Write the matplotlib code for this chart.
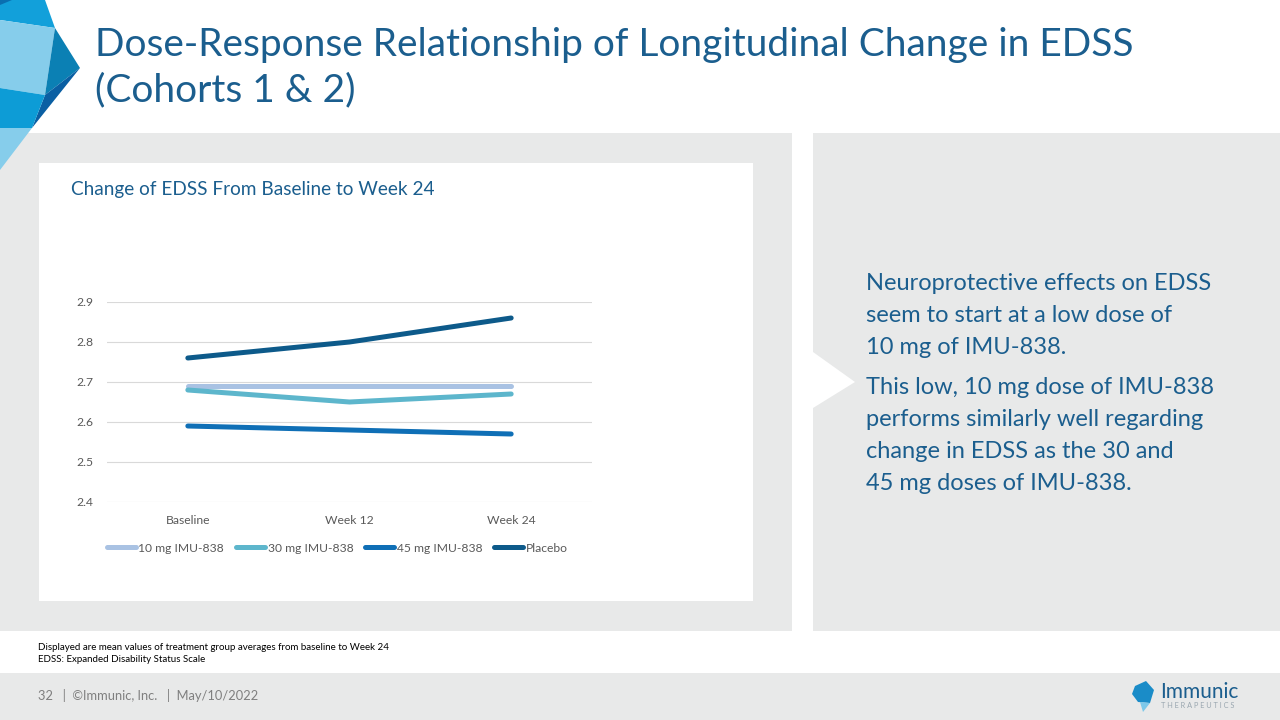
import matplotlib
matplotlib.use("Agg")
from matplotlib import pyplot as plt
from matplotlib.patches import Rectangle, Polygon

plt.rcParams['font.family'] = ['Lato', 'DejaVu Sans']

# data
visits = ["Baseline", "Week 12", "Week 24"]
dose_10mg = [2.69, 2.69, 2.69]
dose_30mg = [2.68, 2.65, 2.67]
dose_45mg = [2.59, 2.58, 2.57]
placebo = [2.76, 2.80, 2.86]
series_names = ["10 mg IMU-838", "30 mg IMU-838", "45 mg IMU-838", "Placebo"]
series_colors = ["#A9C2E3", "#5DB6CC", "#0F6FB6", "#0D5A8A"]
yticks = [2.4, 2.5, 2.6, 2.7, 2.8, 2.9]

W, H = 1280, 720
dark_blue = "#1B5E8E"
panel_gray = "#E8E9E9"

fig = plt.figure(figsize=(12.8, 7.2), dpi=100)
bg = fig.add_axes([0, 0, 1, 1])
bg.set_xlim(0, W)
bg.set_ylim(H, 0)
bg.axis("off")

# panels
bg.add_patch(Rectangle((0, 133), 792, 498, color=panel_gray, lw=0))
bg.add_patch(Rectangle((813, 133), 467, 498, color=panel_gray, lw=0))
bg.add_patch(Polygon([(813, 352), (855, 382), (813, 408)], closed=True, color="white", lw=0))
bg.add_patch(Rectangle((39, 163), 714, 438, color="white", lw=0))
bg.add_patch(Rectangle((0, 673), W, 47, color=panel_gray, lw=0))

# logo shapes top-left
bg.add_patch(Polygon([(0, 0), (45, 0), (55, 28), (0, 20)], color="#12A0DA", lw=0))
bg.add_patch(Polygon([(0, 0), (12, 0), (0, 5)], color="#0A6FB0", lw=0))
bg.add_patch(Polygon([(0, 20), (55, 28), (45, 95), (0, 88)], color="#86CDEB", lw=0))
bg.add_patch(Polygon([(55, 28), (80, 68), (45, 95)], color="#0B80B4", lw=0))
bg.add_patch(Polygon([(45, 95), (80, 68), (32, 128)], color="#0A5FA3", lw=0))
bg.add_patch(Polygon([(0, 88), (45, 95), (32, 128), (0, 128)], color="#0D9CD6", lw=0))
bg.add_patch(Polygon([(0, 128), (32, 128), (0, 170)], color="#86CDEB", lw=0))

# titles and texts
bg.text(95, 45, "Dose-Response Relationship of Longitudinal Change in EDSS",
        fontsize=28, color=dark_blue, va="center", ha="left")
bg.text(95, 90, "(Cohorts 1 & 2)", fontsize=28, color=dark_blue, va="center", ha="left")
bg.text(71, 190, "Change of EDSS From Baseline to Week 24", fontsize=13.7,
        color=dark_blue, va="center", ha="left")

right_lines = ["Neuroprotective effects on EDSS", "seem to start at a low dose of",
               "10 mg of IMU-838."]
right_lines2 = ["This low, 10 mg dose of IMU-838", "performs similarly well regarding",
                "change in EDSS as the 30 and", "45 mg doses of IMU-838."]
for i, t in enumerate(right_lines):
    bg.text(866, 284 + 32 * i, t, fontsize=17, color=dark_blue, va="center", ha="left")
for i, t in enumerate(right_lines2):
    bg.text(866, 387 + 32.3 * i, t, fontsize=17, color=dark_blue, va="center", ha="left")

bg.text(38, 648, "Displayed are mean values of treatment group averages from baseline to Week 24",
        fontsize=7, color="black", va="center", ha="left")
bg.text(38, 660, "EDSS: Expanded Disability Status Scale",
        fontsize=7, color="black", va="center", ha="left")
bg.text(38, 695, "32   |  \u00a9Immunic, Inc.   |  May/10/2022", fontsize=9.3,
        color="#7F7F7F", va="center", ha="left")

# footer logo
bg.add_patch(Polygon([(1135, 686), (1146, 681), (1154, 690), (1150, 703), (1138, 702), (1132, 694)],
                     color="#1A8CC8", lw=0))
bg.add_patch(Polygon([(1140, 702), (1150, 703), (1143, 712)], color="#7CC8EA", lw=0))
bg.text(1160, 692, "Immunic", fontsize=15, color=dark_blue, va="center", ha="left")
bg.text(1161, 706, "T H E R A P E U T I C S", fontsize=5.3, color="#9AA7B0", va="center", ha="left")

# chart
ax = fig.add_axes([107 / W, (H - 502) / H, (592 - 107) / W, 200 / H])
x = range(len(visits))
for vals, name, col in zip([dose_10mg, dose_30mg, dose_45mg, placebo], series_names, series_colors):
    ax.plot(x, vals, color=col, lw=3.6, label=name, solid_capstyle="round")
ax.set_xlim(-0.5, len(visits) - 0.5)
ax.set_ylim(2.4, 2.9)
ax.set_yticks(yticks)
ax.set_yticklabels([f"{v:.1f}" for v in yticks])
ax.set_xticks(list(x))
ax.set_xticklabels(visits)
ax.grid(axis="y", color="#D9D9D9", lw=0.8)
ax.set_axisbelow(True)
for s in ax.spines.values():
    s.set_visible(False)
ax.tick_params(length=0, labelsize=8.7, labelcolor="#595959")
ax.tick_params(axis="y", pad=10)
ax.tick_params(axis="x", pad=9)
ax.legend(loc="center", bbox_to_anchor=(0.475, -0.23), ncol=4, frameon=False,
          fontsize=8.7, labelcolor="#595959", handlelength=2.4, handletextpad=0.2,
          columnspacing=1.0)

fig.savefig("out.png", dpi=100)
